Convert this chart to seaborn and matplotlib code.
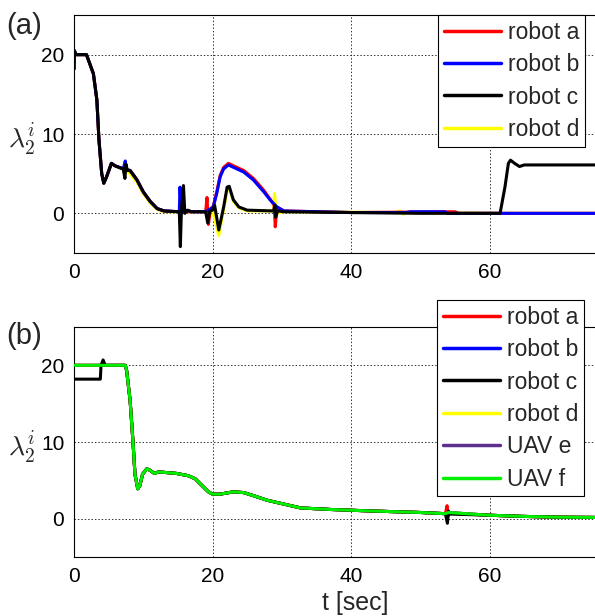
import numpy as np
import pandas as pd
import matplotlib
matplotlib.use('Agg')
import matplotlib.pyplot as plt
import seaborn as sns

sns.set_theme(style='white')
plt.rcParams.update({
    'font.family': ['Liberation Sans', 'DejaVu Sans'],
    'mathtext.fontset': 'cm',
    'axes.edgecolor': 'black',
    'axes.linewidth': 0.8,
    'xtick.color': 'black',
    'ytick.color': 'black',
})

# ---- panel (a): lambda_2 estimates of the four robots ----
t_a_c = [0, 0.05, 0.3, 1.8, 2.8, 3.3, 3.6, 4.0, 4.3, 4.7, 5.4, 5.9, 7.1, 7.35, 7.5, 7.7, 8.1,
         9.1, 10.0, 11.0, 12.0, 13.0, 15.2, 15.35, 15.5, 15.8, 16.0, 16.4, 17.0, 19.0, 19.3,
         19.6, 20.0, 20.3, 20.9, 21.6, 22.1, 22.4, 23.0, 23.8, 25.0, 28.8, 29.0, 29.1, 29.4,
         30.3, 40.0, 50.0, 61.5, 62.2, 62.7, 63.0, 63.6, 64.3, 65.0, 77.0]
lam_a_c = [18.2, 20.5, 20.0, 20.0, 17.6, 14.3, 9.3, 5.0, 3.8, 4.6, 6.3, 6.0, 5.6, 4.4, 6.2, 5.4, 5.4,
           4.2, 2.7, 1.5, 0.6, 0.3, 0.2, -4.2, 0.3, 3.5, 0.0, 0.4, 0.2, 0.2, -1.2,
           0.3, 0.4, 1.0, -2.1, 0.8, 3.3, 3.4, 1.7, 0.8, 0.4, 0.3, 1.0, -0.5, 0.3,
           0.2, 0.1, 0.0, 0.0, 3.3, 6.3, 6.7, 6.3, 5.9, 6.1, 6.1]

t_a_b = [0, 0.05, 0.3, 1.8, 2.8, 3.3, 3.6, 4.0, 4.3, 4.7, 5.4, 5.9, 7.1, 7.4, 7.5, 7.7, 8.1,
         9.1, 10.0, 11.0, 12.0, 13.0, 15.2, 15.3, 15.5, 16.0, 17.0, 19.0, 20.1, 20.6, 21.1,
         21.6, 22.3, 23.0, 24.5, 25.9, 27.4, 28.3, 29.3, 30.3, 40.0, 48.0, 48.5, 53.5, 54.0, 77.0]
lam_a_b = [18.2, 20.5, 20.0, 20.0, 17.6, 14.3, 9.3, 5.0, 3.8, 4.6, 6.3, 6.0, 5.6, 6.6, 5.8, 5.5, 5.4,
           4.2, 2.7, 1.5, 0.6, 0.3, 0.2, 3.3, 0.0, 0.4, 0.2, 0.2, 0.8, 2.5, 4.6,
           5.6, 6.1, 5.8, 5.2, 4.2, 2.7, 1.7, 0.8, 0.3, 0.1, 0.1, 0.2, 0.2, 0.0, 0.0]

t_a_a = [0, 0.05, 0.3, 1.8, 2.8, 3.3, 3.6, 4.0, 4.3, 4.7, 5.4, 5.9, 7.1, 8.1,
         9.1, 10.0, 11.0, 12.0, 13.0, 15.2, 17.0, 19.0, 19.2, 19.4, 19.7, 20.1, 20.6, 21.1,
         21.6, 22.3, 23.0, 24.5, 25.9, 27.4, 28.3, 28.9, 29.05, 29.3, 30.3, 40.0, 54.0, 55.0,
         55.5, 77.0]
lam_a_a = [18.2, 20.5, 20.0, 20.0, 17.6, 14.3, 9.3, 5.0, 3.8, 4.6, 6.3, 6.0, 5.6, 5.4,
           4.2, 2.7, 1.5, 0.6, 0.3, 0.2, 0.2, 0.2, 2.0, -1.4, 0.5, 0.9, 2.7, 4.8,
           5.8, 6.3, 6.0, 5.4, 4.4, 2.9, 1.8, 1.0, -1.7, 0.8, 0.3, 0.1, 0.2, 0.2,
           0.0, 0.0]

t_a_d = [0, 0.05, 0.3, 1.8, 2.8, 3.3, 3.6, 4.0, 4.3, 4.7, 5.4, 5.9, 7.1, 8.1,
         9.1, 10.0, 11.0, 12.0, 13.0, 15.2, 17.0, 19.0, 20.0, 20.9, 21.6, 22.1, 22.4, 23.0,
         23.8, 25.0, 28.8, 28.95, 29.2, 30.3, 46.5, 47.0, 47.5, 48.0, 61.5, 77.0]
lam_a_d = [18.2, 20.5, 20.0, 20.0, 17.6, 14.3, 9.3, 5.0, 3.8, 4.6, 6.3, 6.0, 5.5, 5.0,
           3.9, 2.5, 1.3, 0.5, 0.2, 0.2, 0.2, 0.2, 0.3, -2.8, 0.6, 3.0, 3.2, 1.5,
           0.7, 0.3, 0.3, 2.5, 0.0, 0.2, 0.1, 0.3, -0.1, 0.1, 0.0, 0.0]

# ---- panel (b): robots plus UAVs ----
t_b_early = [0, 7.4, 7.6, 8.1, 8.5, 8.8, 9.2, 9.5, 9.9, 10.5, 11.0, 11.6, 12.2, 14.8, 16.5,
             17.5, 18.5, 19.4, 20.0, 21.1, 23.0, 24.5, 25.9, 27.9, 30.3, 32.7, 37.0, 43.0,
             50.2, 53.6]
lam_b_early = [20.0, 20.0, 19.3, 15.4, 10.2, 5.8, 3.9, 4.3, 5.8, 6.5, 6.3, 5.9, 6.1, 5.9, 5.6,
               5.2, 4.3, 3.5, 3.2, 3.2, 3.5, 3.4, 3.0, 2.4, 1.9, 1.4, 1.2, 1.0,
               0.8, 0.65]
t_b_late = [59.9, 64.7, 69.5, 77.0]
lam_b_late = [0.45, 0.3, 0.2, 0.15]

t_b_start_c = [0, 3.8, 3.9, 4.2, 4.5]
lam_b_start_c = [18.2, 18.2, 20.0, 20.7, 20.0]
t_spike_a = [53.85, 54.0, 54.2]
lam_spike_a = [1.7, 0.3, 0.7]
t_spike_c = [53.9, 54.05, 54.3]
lam_spike_c = [-0.6, 1.0, 0.6]
t_spike_f = [54.0]
lam_spike_f = [0.8]

colors = {'robot a': '#FF0000', 'robot b': '#0000FF', 'robot c': '#000000',
          'robot d': '#FFFF00', 'UAV e': '#5E2F8F', 'UAV f': '#00EE00'}

series_a = {
    'robot a': (t_a_a, lam_a_a, 2),
    'robot b': (t_a_b, lam_a_b, 3),
    'robot c': (t_a_c, lam_a_c, 4),
    'robot d': (t_a_d, lam_a_d, 1),
}
series_b = {
    'robot a': (t_b_early + t_spike_a + t_b_late, lam_b_early + lam_spike_a + lam_b_late, 2),
    'robot b': (t_b_early + t_spike_f + t_b_late, lam_b_early + lam_spike_f + lam_b_late, 1),
    'robot c': (t_b_start_c + t_b_early[1:] + t_spike_c + t_b_late,
                lam_b_start_c + lam_b_early[1:] + lam_spike_c + lam_b_late, 3),
    'robot d': (t_b_early + t_spike_f + t_b_late, lam_b_early + lam_spike_f + lam_b_late, 1),
    'UAV e': (t_b_early + t_spike_f + t_b_late, lam_b_early + lam_spike_f + lam_b_late, 1),
    'UAV f': (t_b_early + t_spike_f + t_b_late, lam_b_early + lam_spike_f + lam_b_late, 5),
}

W, H = 595, 616
fig = plt.figure(figsize=(W / 100, H / 100), dpi=100)
ax1 = fig.add_axes([74 / W, (H - 253) / H, 530 / W, 238 / H])
ax2 = fig.add_axes([74 / W, (H - 557) / H, 530 / W, 230 / H])


def draw(ax, series, legend_xy):
    for name, (t, lam, z) in series.items():
        df = pd.DataFrame({'t': t, 'lam': lam})
        sns.lineplot(data=df, x='t', y='lam', ax=ax, color=colors[name], lw=2.2,
                     estimator=None, sort=False, label=name, zorder=z)
    ax.set_xlim(0, 76.5)
    ax.set_ylim(-5, 25)
    ax.set_xticks([0, 20, 40, 60])
    ax.set_yticks([0, 10, 20])
    ax.set_xlabel('')
    ax.set_ylabel('')
    ax.grid(True, linestyle=(0, (1.5, 2)), color='#333333', lw=0.7)
    ax.tick_params(length=0, labelsize=15, pad=7)
    handles, labels = ax.get_legend_handles_labels()
    leg = ax.legend(handles, labels, loc='upper left', bbox_to_anchor=legend_xy,
                    bbox_transform=fig.transFigure, fontsize=16.5, frameon=True,
                    fancybox=False, framealpha=1, edgecolor='black', borderaxespad=0,
                    handlelength=2.5, handletextpad=0.3, labelspacing=0.41, borderpad=0.25)
    leg.get_frame().set_linewidth(0.8)
    leg.set_zorder(10)
    for h in leg.get_lines():
        h.set_linewidth(2.5)


draw(ax1, series_a, (438 / W, 1 - 15 / H))
draw(ax2, series_b, (437 / W, 1 - 300 / H))

for ax in (ax1, ax2):
    ax.spines['right'].set_visible(False)

fig.text(6 / W, 1 - 26 / H, '(a)', fontsize=21, va='center', ha='left')
fig.text(6 / W, 1 - 336 / H, '(b)', fontsize=21, va='center', ha='left')
fig.text(22 / W, 1 - 140 / H, r'$\lambda_2^i$', fontsize=20, va='center', ha='center')
fig.text(22 / W, 1 - 448 / H, r'$\lambda_2^i$', fontsize=20, va='center', ha='center')
fig.text(355 / W, 1 - 603 / H, 't [sec]', fontsize=18, va='center', ha='center')

fig.savefig('out.png', dpi=100)
